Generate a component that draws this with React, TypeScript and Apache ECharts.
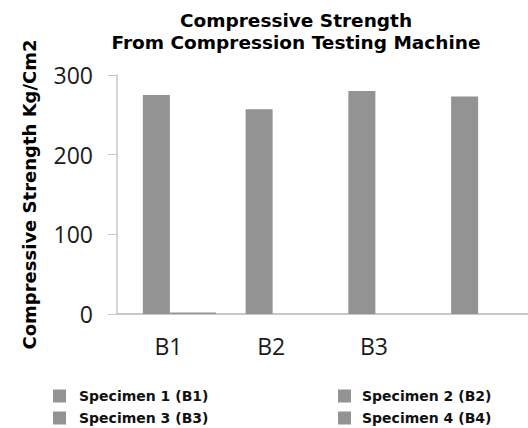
import React, { useEffect, useRef } from "react";
import * as echarts from "echarts";

const categories = ["B1", "B2", "B3", ""];
const specimenNames = ["Specimen 1 (B1)", "Specimen 2 (B2)", "Specimen 3 (B3)", "Specimen 4 (B4)"];
const specimenValues = [275, 257, 280, 273];
const residualValues = [2, null, null, null];
const yTicks = { min: 0, max: 300, interval: 100 };

const BOLD = "'DejaVu Sans', 'Liberation Sans', sans-serif";
const REG = "'Open Sans', Lato, sans-serif";
const GRAY = "#939393";

export default function App() {
  const ref = useRef<HTMLDivElement>(null);
  useEffect(() => {
    if (!ref.current) return;
    const chart = echarts.init(ref.current, null, { renderer: "svg" });
    const specimenSeries = specimenNames.map((name, i) => ({
      name,
      type: "bar",
      stack: "spec",
      barWidth: 27,
      barGap: "0%",
      itemStyle: { color: GRAY },
      data: categories.map((_, j) => (j === i ? specimenValues[i] : null)),
    }));
    const legendPos = [
      { left: 53, top: 389, pad: 8 },
      { left: 338, top: 389, pad: 6 },
      { left: 53, top: 411, pad: 8 },
      { left: 338, top: 411, pad: 6 },
    ];
    chart.setOption({
      animation: false,
      backgroundColor: "#ffffff",
      title: {
        text: "Compressive Strength\nFrom Compression Testing Machine",
        left: 296,
        top: 9,
        textAlign: "center",
        padding: 0,
        textStyle: {
          fontFamily: BOLD,
          fontWeight: "bold",
          fontSize: 18.5,
          lineHeight: 22,
          color: "#000",
        },
      },
      legend: specimenNames.map((name, i) => ({
        data: [name],
        left: legendPos[i].left,
        top: legendPos[i].top,
        padding: 0,
        itemWidth: 13,
        itemHeight: 13,
        icon: "rect",
        selectedMode: false,
        textStyle: {
          fontFamily: BOLD,
          fontWeight: "bold",
          fontSize: 14,
          color: "#111",
          padding: [0, 0, 0, legendPos[i].pad],
        },
      })),
      grid: { left: 117, top: 75, width: 420, height: 239, containLabel: false },
      xAxis: {
        type: "category",
        data: categories,
        boundaryGap: true,
        axisLine: { show: true, lineStyle: { color: "#c8c8c8", width: 2 } },
        axisTick: { show: false },
        axisLabel: {
          margin: 20,
          fontFamily: REG,
          fontSize: 23,
          color: "#1a1a1a",
        },
      },
      yAxis: {
        type: "value",
        min: yTicks.min,
        max: yTicks.max,
        interval: yTicks.interval,
        name: "Compressive Strength Kg/Cm2",
        nameLocation: "middle",
        nameGap: 79,
        nameTextStyle: {
          fontFamily: BOLD,
          fontWeight: "bold",
          fontSize: 18,
          color: "#000",
        },
        splitLine: { show: false },
        axisLine: { show: true, lineStyle: { color: "#c8c8c8", width: 1.5 } },
        axisTick: { show: true, length: 9, lineStyle: { color: "#c8c8c8", width: 1 } },
        axisLabel: {
          margin: 24,
          fontFamily: REG,
          fontSize: 23,
          color: "#1a1a1a",
        },
      },
      series: [
        {
          name: "pad",
          type: "bar",
          barWidth: 22,
          barGap: "0%",
          data: categories.map(() => null),
        },
        ...specimenSeries,
        {
          name: "Residual",
          type: "bar",
          barWidth: 46,
          barGap: "0%",
          itemStyle: { color: GRAY },
          data: residualValues,
        },
      ],
    });
    return () => chart.dispose();
  }, []);
  return <div ref={ref} style={{ width: 528, height: 428, position: "absolute", left: 0, top: 0 }} />;
}
